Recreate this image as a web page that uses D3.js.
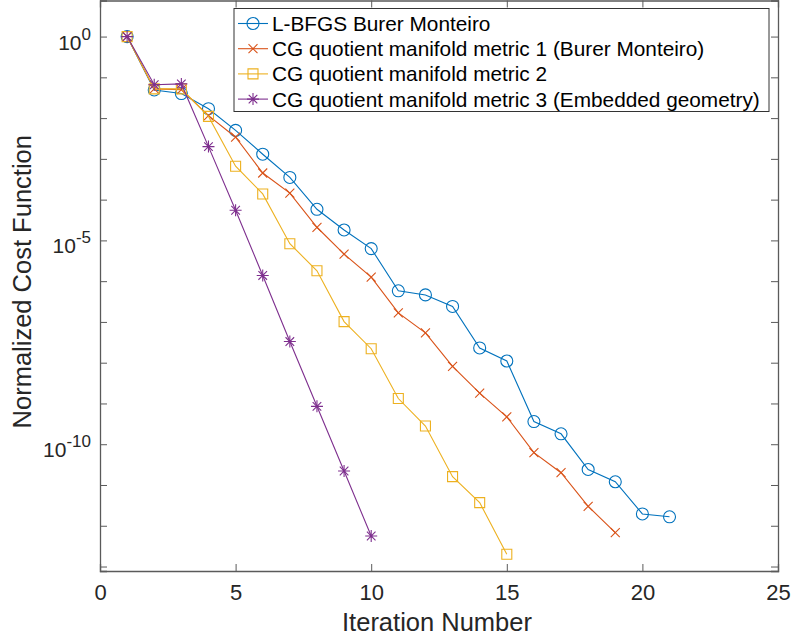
<!DOCTYPE html>
<html><head><meta charset="utf-8">
<script src="https://cdn.jsdelivr.net/npm/d3@7"></script>
<style>
html,body{margin:0;padding:0;background:#fff;}
svg{display:block;font-family:"Liberation Sans",Arial,Helvetica,sans-serif;}
</style></head>
<body><svg id="c" width="791" height="644"></svg>
<script>
const iterLBFGS = [1,2,3,4,5,6,7,8,9,10,11,12,13,14,15,16,17,18,19,20,21];
const costLBFGS = [1,0.049,0.040,0.017,5.0e-3,1.3e-3,3.5e-4,5.8e-5,1.8e-5,6.3e-6,5.8e-7,4.6e-7,2.4e-7,2.3e-8,1.1e-8,3.6e-10,1.8e-10,2.4e-11,1.2e-11,1.95e-12,1.66e-12];
const iterCG1 = [1,2,3,4,5,6,7,8,9,10,11,12,13,14,15,16,17,18,19];
const costCG1 = [1,0.052,0.050,0.0115,3.4e-3,4.5e-4,1.45e-4,2.1e-5,4.6e-6,1.26e-6,1.66e-7,5.4e-8,8.1e-9,1.8e-9,4.7e-10,6.2e-11,2.0e-11,3.0e-12,6.8e-13];
const iterCG2 = [1,2,3,4,5,6,7,8,9,10,11,12,13,14,15];
const costCG2 = [1,0.052,0.052,0.011,6.6e-4,1.38e-4,8.3e-6,1.8e-6,1.02e-7,2.2e-8,1.32e-9,2.8e-10,1.6e-11,3.7e-12,2.0e-13];
const iterCG3 = [1,2,3,4,5,6,7,8,9,10];
const costCG3 = [1,0.066,0.069,2.0e-3,5.5e-5,1.38e-6,3.3e-8,8.5e-10,2.2e-11,5.6e-13];
const seriesNames = ["L-BFGS Burer Monteiro","CG quotient manifold metric 1 (Burer Monteiro)","CG quotient manifold metric 2","CG quotient manifold metric 3 (Embedded geometry)"];
const xTicks = [0,5,10,15,20,25];
const yTickExps = [0,-1,-2,-3,-4,-5,-6,-7,-8,-9,-10,-11,-12,-13];
const yLabelExps = [0,-5,-10];
const xLabel = "Iteration Number";
const yLabel = "Normalized Cost Function";

const colors = ["#0072BD","#D95319","#EDB120","#7E2F8E"];
const markers = ["circle","x","square","star"];
const series = [
  {x:iterLBFGS,y:costLBFGS},{x:iterCG1,y:costCG1},{x:iterCG2,y:costCG2},{x:iterCG3,y:costCG3}
];

const L=100,R=778,T=0.5,B=571;
const svg=d3.select("#c");
const x=d3.scaleLinear().domain([0,25]).range([L,R]);
const y=d3.scaleLog().domain([Math.pow(10,-13.11),Math.pow(10,0.885)]).range([B,T]);
const axisColor="#5a5a5a", textColor="#262626";

function markerPath(type){
  const p=d3.path();
  if(type==="circle"){p.moveTo(6,0);p.arc(0,0,6,0,2*Math.PI);}
  else if(type==="x"){const s=4.5;p.moveTo(-s,-s);p.lineTo(s,s);p.moveTo(-s,s);p.lineTo(s,-s);}
  else if(type==="square"){const s=5;p.rect(-s,-s,2*s,2*s);}
  else if(type==="star"){const s=6,d=4.3;p.moveTo(-s,0);p.lineTo(s,0);p.moveTo(0,-s);p.lineTo(0,s);p.moveTo(-d,-d);p.lineTo(d,d);p.moveTo(-d,d);p.lineTo(d,-d);}
  return p.toString();
}

// data lines
const plot=svg.append("g");
series.forEach((s,i)=>{
  const pts=s.x.map((v,j)=>[v,s.y[j]]);
  plot.append("path").datum(pts)
    .attr("fill","none").attr("stroke",colors[i]).attr("stroke-width",1.1)
    .attr("d",d3.line().x(d=>x(d[0])).y(d=>y(d[1])));
  plot.selectAll(null).data(pts).enter().append("path")
    .attr("transform",d=>`translate(${x(d[0])},${y(d[1])})`)
    .attr("d",markerPath(markers[i]))
    .attr("fill","none").attr("stroke",colors[i]).attr("stroke-width",1.1);
});

// axes
const yVals=yTickExps.map(e=>Math.pow(10,e));
const gx=svg.append("g").attr("transform",`translate(0,${B})`)
  .call(d3.axisBottom(x).tickValues(xTicks).tickSize(-7).tickPadding(13).tickFormat(d3.format("d")));
const gxt=svg.append("g").attr("transform",`translate(0,${T})`)
  .call(d3.axisTop(x).tickValues(xTicks).tickSize(-7).tickFormat(""));
const gy=svg.append("g").attr("transform",`translate(${L},0)`)
  .call(d3.axisLeft(y).tickValues(yVals).tickSize(-7).tickFormat(""));
const gyr=svg.append("g").attr("transform",`translate(${R},0)`)
  .call(d3.axisRight(y).tickValues(yVals).tickSize(-7).tickFormat(""));
[gx,gxt,gy,gyr].forEach(g=>{
  g.selectAll("path.domain").attr("stroke",axisColor).attr("stroke-width",1.3);
  g.selectAll(".tick line").attr("stroke",axisColor).attr("stroke-width",1);
});
gx.selectAll(".tick text").attr("font-size",22).attr("fill",textColor).attr("font-family","Liberation Sans, Arial, sans-serif");

// y tick labels with superscripts
yLabelExps.forEach(e=>{
  const t=svg.append("text").attr("x",91).attr("y",y(Math.pow(10,e))+13)
    .attr("text-anchor","end").attr("fill",textColor).attr("font-size",21);
  t.append("tspan").text("10");
  t.append("tspan").attr("dy",-10).attr("font-size",17).text(String(e));
});

// axis labels
svg.append("text").attr("x",(L+R)/2-2).attr("y",631).attr("text-anchor","middle")
  .attr("font-size",25.5).attr("fill",textColor).text(xLabel);
svg.append("text").attr("transform",`translate(31,${(T+B)/2-4}) rotate(-90)`)
  .attr("text-anchor","middle").attr("font-size",25.5).attr("fill",textColor).text(yLabel);

// legend
const lg=svg.append("g");
lg.append("rect").attr("x",234).attr("y",8.5).attr("width",535).attr("height",103)
  .attr("fill","#fff").attr("stroke","#333").attr("stroke-width",1);
seriesNames.forEach((name,i)=>{
  const cy=23.5+i*25.2;
  lg.append("line").attr("x1",238).attr("x2",268).attr("y1",cy).attr("y2",cy)
    .attr("stroke",colors[i]).attr("stroke-width",1.1);
  lg.append("path").attr("transform",`translate(253,${cy})`).attr("d",markerPath(markers[i]))
    .attr("fill","none").attr("stroke",colors[i]).attr("stroke-width",1.1);
  lg.append("text").attr("x",272).attr("y",cy+7.5).attr("font-size",20.8).attr("fill","#000").text(name);
});
</script></body></html>
